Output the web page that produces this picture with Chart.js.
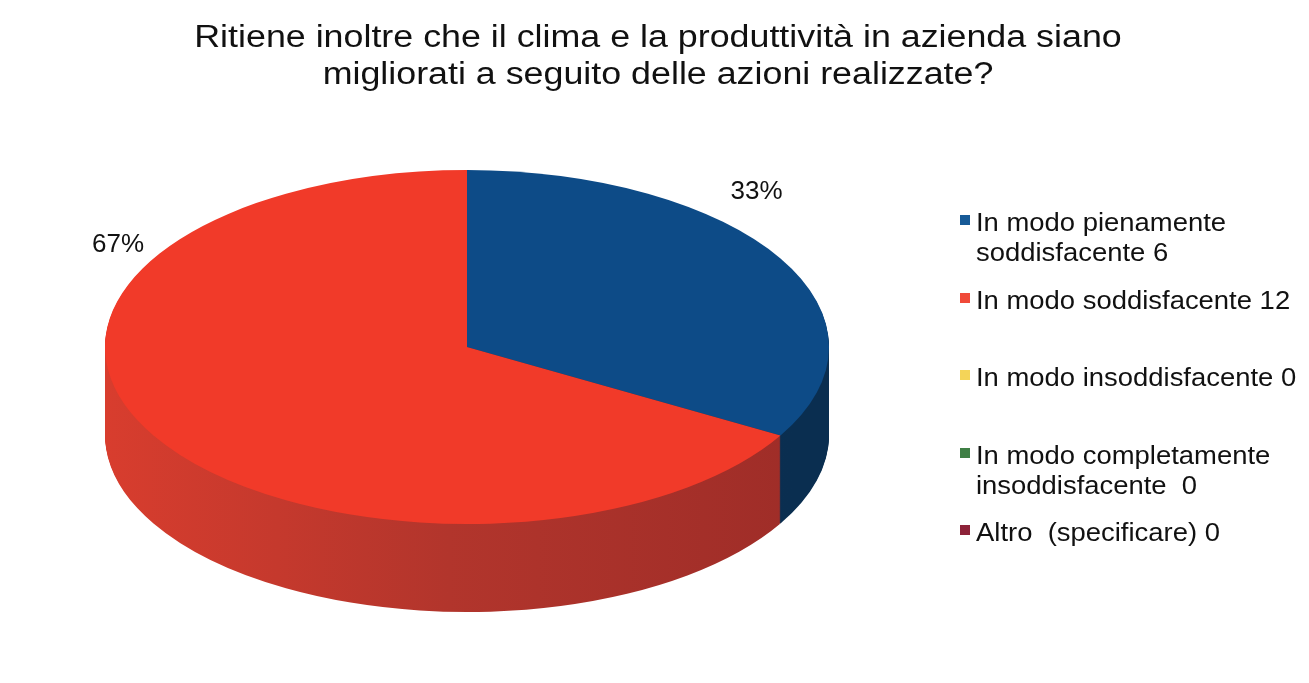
<!DOCTYPE html>
<html>
<head>
<meta charset="utf-8">
<script src="https://cdn.jsdelivr.net/npm/chart.js@4.4.0/dist/chart.umd.min.js"></script>
<style>
  body { margin: 0; background: #fff; font-family: "Liberation Sans", Arial, sans-serif; color: #111; }
  #wrap { position: relative; width: 1309px; height: 683px; overflow: hidden; }
  #chart { position: absolute; left: 0; top: 0; }
  #title { position: absolute; left: 0; top: 18px; width: 1316px; text-align: center; font-size: 31px; line-height: 37px;
           transform: scaleX(1.155); transform-origin: 658px 0; }
  #legend { position: absolute; left: 960px; top: 207px; width: 349px; }
  .item { position: absolute; left: 0; width: 349px; font-size: 26px; line-height: 30px; white-space: pre-wrap; }
  .item .box { position: absolute; left: 0; top: 8px; width: 10px; height: 10px; }
  .item .txt { display: block; margin-left: 16px; width: 315px; transform: scaleX(1.055); transform-origin: 0 0; }
</style>
</head>
<body>
<div id="wrap">
  <canvas id="chart" width="1309" height="683"></canvas>
  <div id="title">Ritiene inoltre che il clima e la produttività in azienda siano<br>migliorati a seguito delle azioni realizzate?</div>
  <div id="legend"></div>
</div>
<script>
const categories = [
    'In modo pienamente soddisfacente',
    'In modo soddisfacente',
    'In modo insoddisfacente',
    'In modo completamente insoddisfacente ',
    'Altro  (specificare)'
];
const counts = [6, 12, 0, 0, 0];
const topColors = ['#0d4b87', '#f13a29', '#f5cf4a', '#3e7b3c', '#8a1f33'];
const legendColors = ['#175a97', '#f04a39', '#f4d458', '#3f7f45', '#8d2239'];
const sideColors = [
    ['#0c3862', '#0a2e50'],
    ['#d83d2e', '#b2352c', '#9f2d28'],
    ['#c9a63a'],
    ['#2f5e2e'],
    ['#6b1828']
];

// legend built from the same arrays
const legend = document.getElementById('legend');
categories.forEach((name, i) => {
    const item = document.createElement('div');
    item.className = 'item';
    item.style.top = (i * 77.5) + 'px';
    item.innerHTML = '<span class="box" style="background:' + legendColors[i] + '"></span>' +
        '<span class="txt">' + name + ' ' + counts[i] + '</span>';
    legend.appendChild(item);
});

const pie3d = {
    id: 'pie3d',
    beforeDatasetsDraw(chart, args, opts) {
        const ctx = chart.ctx;
        const arcs = chart.getDatasetMeta(0).data;
        const cx = arcs[0].x, cy = arcs[0].y, r = arcs[0].outerRadius;

        // side fills, shaded left to right
        const sideFill = sideColors.map(stops => {
            if (stops.length === 1) return stops[0];
            const g = ctx.createLinearGradient(cx - r, 0, cx + r * 0.9, 0);
            stops.forEach((c, j) => g.addColorStop(j / (stops.length - 1), c));
            return g;
        });

        for (let d = opts.depth; d >= 0; d--) {
            arcs.forEach((arc, i) => {
                const face = Object.create(arc);
                face.options = Object.assign({}, arc.options, {
                    backgroundColor: d === 0 ? arc.options.backgroundColor : sideFill[i],
                    borderWidth: 0
                });
                ctx.save();
                ctx.translate(0, cy + d);
                ctx.scale(1, opts.tilt);
                ctx.translate(0, -cy);
                face.draw(ctx);
                ctx.restore();
            });
        }
        return false;
    },
    afterDraw(chart, args, opts) {
        const ctx = chart.ctx;
        const arcs = chart.getDatasetMeta(0).data;
        const total = counts.reduce((a, b) => a + b, 0);
        ctx.save();
        ctx.font = '26px "Liberation Sans", Arial, sans-serif';
        ctx.fillStyle = '#111';
        ctx.textAlign = 'center';
        ctx.textBaseline = 'middle';
        arcs.forEach((arc, i) => {
            if (!counts[i]) return;
            const spot = opts.labelSpots[i];
            const x = arc.x + spot[0] * arc.outerRadius;
            const y = arc.y + spot[1] * arc.outerRadius * opts.tilt;
            ctx.fillText(Math.round(counts[i] / total * 100) + '%', x, y);
        });
        ctx.restore();
    }
};

new Chart(document.getElementById('chart'), {
    type: 'pie',
    data: {
        labels: categories,
        datasets: [{
            data: counts,
            backgroundColor: topColors,
            borderWidth: 0,
            radius: 362
        }]
    },
    options: {
        responsive: false,
        animation: false,
        layout: { padding: { left: 0, right: 375, top: 11, bottom: 0 } },
        plugins: {
            legend: { display: false },
            tooltip: { enabled: false },
            pie3d: {
                tilt: 0.489,
                depth: 88,
                labelSpots: [[0.80, -0.876], [-0.964, -0.576]]
            }
        }
    },
    plugins: [pie3d]
});
</script>
</body>
</html>
